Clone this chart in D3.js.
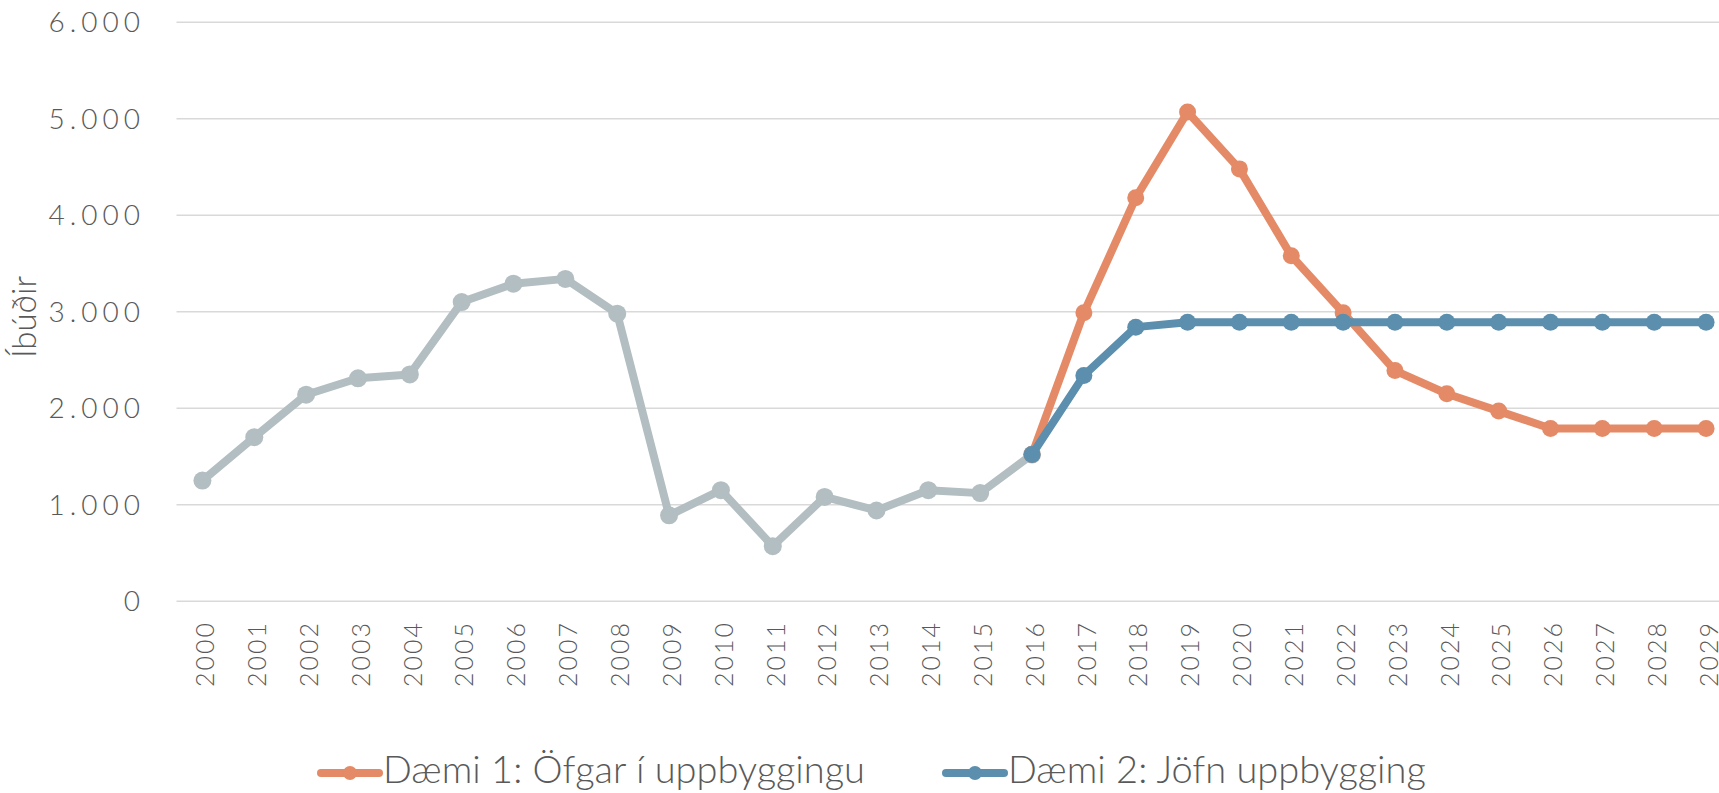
<!DOCTYPE html>
<html>
<head>
<meta charset="utf-8">
<script src="https://cdn.jsdelivr.net/npm/d3@7"></script>
<style>
  html, body { margin: 0; padding: 0; background: #fff; }
  svg { display: block; }
  text { font-family: Lato, "Open Sans", sans-serif; font-weight: 300; fill: #595959; }
</style>
</head>
<body>
<svg id="chart" width="1719" height="793"></svg>
<script>
// years on the category axis
var years = ["2000","2001","2002","2003","2004","2005","2006","2007","2008","2009",
             "2010","2011","2012","2013","2014","2015","2016","2017","2018","2019",
             "2020","2021","2022","2023","2024","2025","2026","2027","2028","2029"];

// actual completions 2000-2016 (no legend entry)
var actual = [1250,1700,2140,2310,2350,3100,3290,3340,2980,890,
              1150,570,1080,940,1150,1120,1520,null,null,null,
              null,null,null,null,null,null,null,null,null,null];

// Dæmi 1: Öfgar í uppbyggingu
var scenario1 = [null,null,null,null,null,null,null,null,null,null,
                 null,null,null,null,null,null,1520,2990,4180,5070,
                 4480,3580,2990,2390,2150,1970,1790,1790,1790,1790];

// Dæmi 2: Jöfn uppbygging
var scenario2 = [null,null,null,null,null,null,null,null,null,null,
                 null,null,null,null,null,null,1520,2340,2840,2890,
                 2890,2890,2890,2890,2890,2890,2890,2890,2890,2890];

var yTicks = [0,1000,2000,3000,4000,5000,6000];
var seriesNames = ["Dæmi 1: Öfgar í uppbyggingu", "Dæmi 2: Jöfn uppbygging"];

function drawChart(){

  var svg = d3.select("#chart");

  // plot area (right side runs past the picture edge, like the original)
  var plot = {left: 176.5, right: 1732, top: 22.2, bottom: 601.2};

  var x = d3.scalePoint()
            .domain(years)
            .range([plot.left, plot.right])
            .padding(0.5);

  var y = d3.scaleLinear()
            .domain([0, 6000])
            .range([plot.bottom, plot.top]);

  var isFormat = d3.formatLocale({decimal: ",", thousands: ".", grouping: [3], currency: ["", ""]}).format(",");

  //========= gridlines
  svg.append("g").attr("class", "grid")
     .selectAll("line")
     .data(yTicks)
     .enter().append("line")
       .attr("x1", plot.left)
       .attr("x2", 1719)
       .attr("y1", function(d){ return y(d); })
       .attr("y2", function(d){ return y(d); })
       .attr("stroke", "#d9d9d9")
       .attr("stroke-width", 1.6);

  //========= y axis labels
  svg.append("g").attr("class", "ylabels")
     .selectAll("text")
     .data(yTicks)
     .enter().append("text")
       .attr("x", 145)
       .attr("y", function(d){ return y(d); })
       .attr("dy", "0.35em")
       .attr("text-anchor", "end")
       .style("font-size", "28px")
       .style("letter-spacing", "5px")
       .text(function(d){ return isFormat(d); });

  // y axis title
  svg.append("text")
     .attr("transform", "translate(24,317) rotate(-90)")
     .attr("text-anchor", "middle")
     .attr("dy", "0.35em")
     .style("font-size", "33px")
     .text("Íbúðir");

  //========= x axis labels (rotated)
  svg.append("g").attr("class", "xlabels")
     .selectAll("text")
     .data(years)
     .enter().append("text")
       .attr("transform", function(d){ return "translate(" + (x(d) + 3) + ",621) rotate(-90)"; })
       .attr("text-anchor", "end")
       .attr("dy", "0.35em")
       .style("font-size", "25px")
       .style("letter-spacing", "2px")
       .text(function(d){ return d; });

  //========= lines + markers
  var line = d3.line()
               .defined(function(d){ return d.v !== null; })
               .x(function(d){ return x(d.year); })
               .y(function(d){ return y(d.v); });

  function drawSeries(values, color, r){
    var pts = years.map(function(yr, i){ return {year: yr, v: values[i]}; });
    var g = svg.append("g");
    g.append("path")
     .attr("d", line(pts))
     .attr("fill", "none")
     .attr("stroke", color)
     .attr("stroke-width", 8)
     .attr("stroke-linejoin", "round");
    g.selectAll("circle")
     .data(pts.filter(function(d){ return d.v !== null; }))
     .enter().append("circle")
       .attr("cx", function(d){ return x(d.year); })
       .attr("cy", function(d){ return y(d.v); })
       .attr("r", r)
       .attr("fill", color);
  }

  var colors = ["#b2bec1", "#e58a66", "#5b8fad"];
  drawSeries(actual, colors[0], 9);
  drawSeries(scenario1, colors[1], 8.5);
  drawSeries(scenario2, colors[2], 8.5);

  //========= legend
  var legendX = [321, 946];
  var legend = svg.append("g").attr("class", "legend")
                  .selectAll("g")
                  .data(seriesNames)
                  .enter().append("g")
                    .attr("transform", function(d, i){ return "translate(" + legendX[i] + ",773)"; });

  legend.append("line")
        .attr("x1", 0).attr("x2", 58)
        .attr("stroke", function(d, i){ return colors[i + 1]; })
        .attr("stroke-width", 8)
        .attr("stroke-linecap", "round");
  legend.append("circle")
        .attr("cx", 29).attr("r", 7)
        .attr("fill", function(d, i){ return colors[i + 1]; });
  legend.append("text")
        .attr("x", 62)
        .attr("y", 10)
        .style("font-size", "38px")
        .text(function(d){ return d; });
}

drawChart();
</script>
</body>
</html>
